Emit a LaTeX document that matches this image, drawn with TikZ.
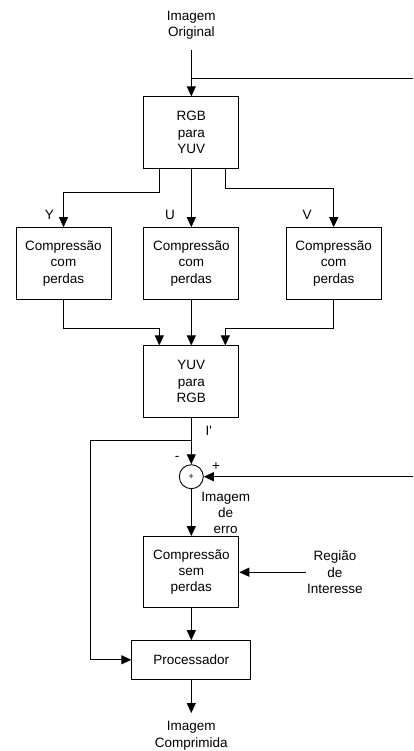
\documentclass[tikz,border=0pt]{standalone}
\usepackage{fontspec}
\setmainfont{Liberation Sans}
\usetikzlibrary{arrows.meta, positioning}

\begin{document}
\begin{tikzpicture}[
    x=1pt, y=-1pt,
    line width=0.9pt,
    every node/.style={font=\fontsize{13.5pt}{16.3pt}\selectfont},
    box/.style={draw, align=center, inner sep=0pt,
                minimum width=95pt, minimum height=71.3pt},
    lbl/.style={align=center, inner sep=0pt},
    sumnode/.style={draw, circle, inner sep=0pt, minimum size=24pt,
                    font=\fontsize{9pt}{10pt}\selectfont},
    arr/.style={-{Triangle[length=10pt, width=9pt]}},
]
\useasboundingbox (0,0) rectangle (413,751);

% blocos
\node[lbl, anchor=south, inner ysep=10pt] (orig) at (191.3,50) {Imagem\\Original};
\node[box]                  (rgb)  at (191.3,132.5) {RGB\\para\\YUV};
\node[box]                  (cy)   at (63.5,263.3)  {Compressão\\com\\perdas};
\node[box]                  (cu)   at (191.3,263.3) {Compressão\\com\\perdas};
\node[box]                  (cv)   at (333.7,263.3) {Compressão\\com\\perdas};
\node[box]                  (yuv)  at (191.3,381.5) {YUV\\para\\RGB};
\node[sumnode]              (sum)  at (191.3,476.7) {+};
\node[box]                  (sem)  at (191.3,572.2) {Compressão\\sem\\perdas};
\node[box, minimum width=119pt, minimum height=38.3pt]
                            (proc) at (191.3,659.8) {Processador};
\node[lbl, anchor=north, inner ysep=8pt] (out) at (191.3,713) {Imagem\\Comprimida};
\node[lbl, anchor=west, inner xsep=1pt]  (roi) at (305.7,572.2) {Região\\de\\Interesse};

% rotulos
\node[lbl] (ly)   at (49.5,215)  {Y};
\node[lbl] (lu)   at (170,215)   {U};
\node[lbl] (lv)   at (307,215)   {V};
\node[lbl] (li)   at (208.7,431) {I\textquotesingle};
\node[lbl] (lneg) at (177,458)   {-};
\node[lbl] (lpos) at (216,467)   {+};
\node[lbl] (lerr) at (225.7,513) {Imagem\\de\\erro};

\coordinate (tap)   at (413,78);
\coordinate (errin) at (413,476.7);

% ligacoes
\draw[arr] (orig) -- (rgb);
\draw (tap) -- (tap -| rgb.north);
\draw[arr] ([xshift=-32pt]rgb.south) -- ++(0,24) -| (cy.north);
\draw[arr] (rgb) -- (cu);
\draw[arr] ([xshift=34pt]rgb.south) -- ++(0,20) -| (cv.north);
\draw[arr] (cy.south) -- ++(0,29) -| ([xshift=-32pt]yuv.north);
\draw[arr] (cu) -- (yuv);
\draw[arr] (cv.south) -- ++(0,29) -| ([xshift=34pt]yuv.north);
\draw[arr] (yuv) -- (sum);
\draw[arr] ([yshift=-23pt]yuv.south) -- ++(-101,0) |- (proc.west);
\draw[arr] (errin) -- (sum);
\draw[arr] (sum) -- (sem);
\draw[arr] (roi.west) -- (sem.east);
\draw[arr] (sem) -- (proc);
\draw[arr] (proc) -- (out);
\end{tikzpicture}
\end{document}
